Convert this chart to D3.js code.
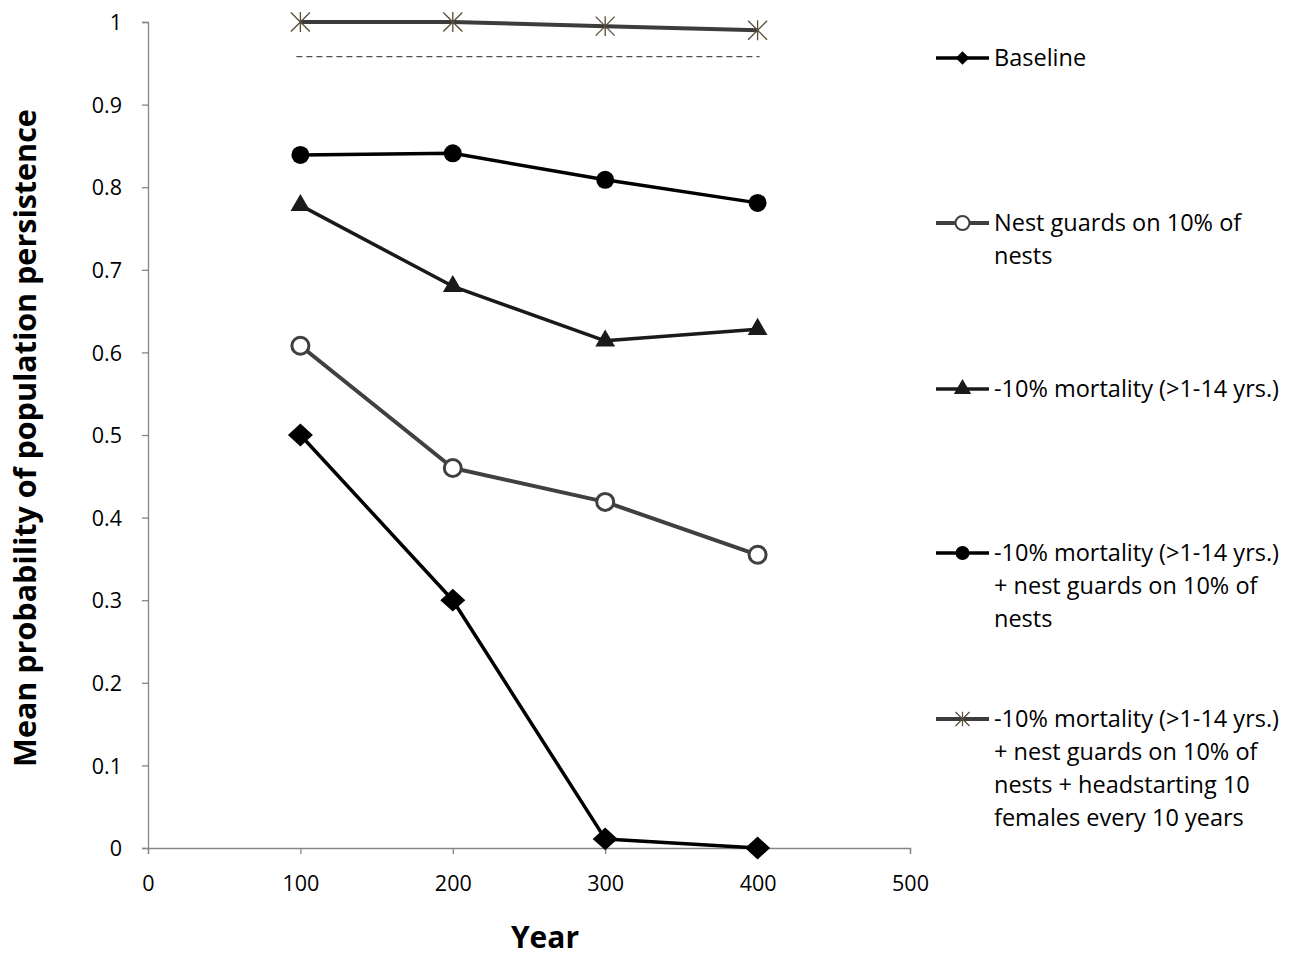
<!DOCTYPE html>
<html><head><meta charset="utf-8">
<script src="https://cdn.jsdelivr.net/npm/d3@7"></script>
<style>body{margin:0;background:#fff}</style>
</head><body>
<svg id="c" width="1293" height="957"></svg>
<script>
const years = [100, 200, 300, 400];
const baseline = [0.5, 0.3, 0.011, 0.0];
const nestGuards = [0.608, 0.46, 0.419, 0.355];
const mortality = [0.778, 0.680, 0.614, 0.628];
const mortalityNest = [0.839, 0.841, 0.809, 0.781];
const headstart = [1.0, 1.0, 0.995, 0.990];
const refLine = [0.958, 0.958];
const refYears = [100, 400];
const xTicks = [0, 100, 200, 300, 400, 500];
const yTicks = [0, 0.1, 0.2, 0.3, 0.4, 0.5, 0.6, 0.7, 0.8, 0.9, 1];
const legendLabels = [
  ["Baseline"],
  ["Nest guards on 10% of", "nests"],
  ["-10% mortality (>1-14 yrs.)"],
  ["-10% mortality (>1-14 yrs.)", "+ nest guards on 10% of", "nests"],
  ["-10% mortality (>1-14 yrs.)", "+ nest guards on 10% of", "nests + headstarting 10", "females every 10 years"]
];

const svg = d3.select("#c");
const font = "Open Sans, Liberation Sans, sans-serif";
const x = d3.scaleLinear().domain([0, 500]).range([148, 910]);
const y = d3.scaleLinear().domain([0, 1]).range([848, 22]);

// axes
const axisColor = "#868686";
const gx = svg.append("g").attr("transform", `translate(0,${y(0)})`)
  .call(d3.axisBottom(x).tickValues(xTicks).tickSize(6).tickPadding(22).tickFormat(d3.format("d")));
const gy = svg.append("g").attr("transform", `translate(${x(0)},0)`)
  .call(d3.axisLeft(y).tickValues(yTicks).tickSize(6).tickPadding(20).tickFormat(d => d === 0 ? "0" : d === 1 ? "1" : d3.format(".1f")(d)));
[gx, gy].forEach(g => {
  g.select(".domain").attr("stroke", axisColor).attr("stroke-width", 1.3);
  g.selectAll(".tick line").attr("stroke", axisColor).attr("stroke-width", 1.3);
  g.selectAll(".tick text").attr("fill", "#000").style("font-family", font).style("font-size", "21.5px");
});
gy.selectAll(".tick text").attr("dy", "0.36em");
gx.selectAll(".tick text").attr("dy", "0.71em");

// titles
svg.append("text").attr("x", 545).attr("y", 948).attr("text-anchor", "middle")
  .style("font-family", font).style("font-weight", "bold").style("font-size", "30px").text("Year");
svg.append("text").attr("transform", "translate(36,438) rotate(-90)").attr("text-anchor", "middle")
  .style("font-family", font).style("font-weight", "bold").style("font-size", "30.5px")
  .text("Mean probability of population persistence");

// dashed reference
const line = d3.line().x(d => x(d[0])).y(d => y(d[1]));
svg.append("path").datum(refYears.map((v, i) => [v, refLine[i]]))
  .attr("d", d3.line().x((d, i) => x(d[0]) + (i === 0 ? -4 : 2)).y(d => y(d[1])))
  .attr("fill", "none").attr("stroke", "#505050").attr("stroke-width", 1.2).attr("stroke-dasharray", "6,4");

const sym = (type, size) => d3.symbol().type(type).size(size)();
const star = (r) => {
  const p = d3.path();
  p.moveTo(-r, -r); p.lineTo(r, r);
  p.moveTo(-r, r); p.lineTo(r, -r);
  p.moveTo(0, -r * 1.05); p.lineTo(0, r * 1.05);
  return p.toString();
};

const series = [
  { vals: baseline, color: "#000", width: 3.5, marker: g => g.append("path").attr("d", sym(d3.symbolDiamond2, 330)).attr("fill", "#000").attr("transform", "scale(1.1,1)") , lmarker: g => g.append("path").attr("d", sym(d3.symbolDiamond2, 120)).attr("fill", "#000")},
  { vals: nestGuards, color: "#404040", width: 4, marker: g => g.append("circle").attr("r", 8.5).attr("fill", "#fff").attr("stroke", "#404040").attr("stroke-width", 3), lmarker: g => g.append("circle").attr("r", 7).attr("fill", "#fff").attr("stroke", "#404040").attr("stroke-width", 2) },
  { vals: mortality, color: "#1a1a1a", width: 3.5, marker: g => g.append("path").attr("d", sym(d3.symbolTriangle, 170)).attr("fill", "#1a1a1a"), lmarker: g => g.append("path").attr("d", sym(d3.symbolTriangle, 130)).attr("fill", "#1a1a1a") },
  { vals: mortalityNest, color: "#000", width: 3.5, marker: g => g.append("circle").attr("r", 9).attr("fill", "#000"), lmarker: g => g.append("circle").attr("r", 7).attr("fill", "#000") },
  { vals: headstart, color: "#3c3c3c", width: 4, marker: g => g.append("path").attr("d", star(9.5)).attr("stroke", "#574d38").attr("stroke-width", 1.3).attr("fill", "none"), lmarker: g => g.append("path").attr("d", star(7)).attr("stroke", "#574d38").attr("stroke-width", 1.2).attr("fill", "none") }
];

series.forEach(s => {
  const data = years.map((yr, i) => [yr, s.vals[i]]);
  svg.append("path").datum(data).attr("d", line).attr("fill", "none")
    .attr("stroke", s.color).attr("stroke-width", s.width).attr("stroke-linejoin", "round");
  data.forEach(d => {
    const g = svg.append("g").attr("transform", `translate(${x(d[0])},${y(d[1])})`);
    s.marker(g);
  });
});

// legend
const legendY = [58, 223, 389, 553, 719];
const lineH = 32.8;
series.forEach((s, i) => {
  const ly = legendY[i];
  svg.append("line").attr("x1", 936).attr("x2", 989).attr("y1", ly).attr("y2", ly)
    .attr("stroke", s.color).attr("stroke-width", s.width);
  const g = svg.append("g").attr("transform", `translate(962.5,${ly})`);
  s.lmarker(g);
  legendLabels[i].forEach((t, j) => {
    svg.append("text").attr("x", 994).attr("y", ly + j * lineH).attr("dy", "0.35em")
      .style("font-family", font).style("font-size", "23.5px").attr("fill", "#000").text(t);
  });
});
</script>
</body></html>
